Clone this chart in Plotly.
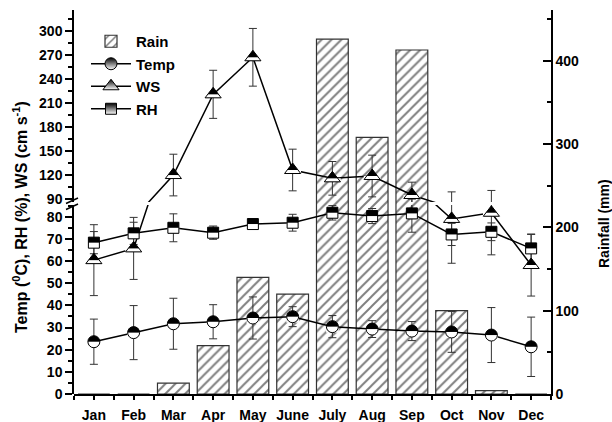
import plotly.graph_objects as go

# ---------------- data ----------------
months = ["Jan", "Feb", "Mar", "Apr", "May", "June", "July", "Aug", "Sep", "Oct", "Nov", "Dec"]
rain = [0, 0, 13, 58, 140, 120, 426, 308, 413, 100, 4, 0]
temp = [23.6, 27.7, 31.7, 32.6, 34.3, 34.9, 30.4, 29.3, 28.4, 28.0, 26.6, 21.3]
temp_err = [10.2, 12.2, 11.5, 7.7, 9.5, 4.5, 5.0, 3.8, 4.3, 9.2, 12.4, 13.4]
ws = [60.4, 65.7, 120.0, 220.7, 266.9, 126.3, 115.9, 118.8, 95.1, 79.0, 81.8, 58.2]
ws_err = [16.0, 14.0, 26.0, 30.0, 36.0, 26.0, 21.0, 26.0, 16.0, 20.0, 19.0, 14.0]
rh = [68.3, 72.5, 75.0, 72.8, 76.7, 77.3, 81.8, 80.3, 81.5, 72.0, 73.2, 65.7]
rh_err = [5.0, 5.0, 6.3, 3.0, 1.5, 3.8, 3.3, 3.4, 8.5, 5.0, 4.0, 6.3]
left_low_ticks = [0, 10, 20, 30, 40, 50, 60, 70, 80]
left_high_ticks = [90, 120, 150, 180, 210, 240, 270, 300]
right_ticks = [0, 100, 200, 300, 400]

# ---------------- geometry ----------------
W, H = 612, 422
ML, MR, MT, MB = 74, 61, 10, 28
PW, PH = W - ML - MR, H - MT - MB
LOW_DOMAIN = [0, 0.4922]     # lower segment of the broken left axis
HIGH_DOMAIN = [0.5, 1]       # upper segment
LOW_RANGE = [0, 85.29]
HIGH_RANGE = [86.38, 325.9]
RAIN_RANGE = [0, 461]


def px_x(px):
    return (px - ML) / PW


def px_y(py):
    return (H - MB - py) / PH


def in_range(vals, lo, hi):
    return [v if lo <= v <= hi else None for v in vals]


FONT = "Liberation Sans, Arial, Helvetica, sans-serif"
x = list(range(len(months)))

fig = go.Figure()

# Rain bars (right axis, first subplot -> drawn underneath)
fig.add_trace(go.Bar(
    x=x, y=rain, name="Rain", xaxis="x", yaxis="y", width=0.8,
    marker=dict(color="white", line=dict(color="#333333", width=1.2),
                pattern=dict(shape="/", fgcolor="#000000", bgcolor="white",
                             size=7, solidity=0.28)),
    legendrank=1,
))

series = [
    ("Temp", temp, temp_err, "circle", 12, 2),
    ("WS", ws, ws_err, "triangle-up", 14, 3),
    ("RH", rh, rh_err, "square", 11, 4),
]

segments = [("y2", LOW_RANGE), ("y3", HIGH_RANGE)]
for axis, (lo, hi) in segments:
    # lines + error bars (full series, clipped by the segment)
    for name, vals, errs, sym, size, rank in series:
        fig.add_trace(go.Scatter(
            x=x, y=vals, xaxis="x", yaxis=axis, mode="lines",
            line=dict(color="black", width=1.5),
            error_y=dict(type="data", array=errs, visible=True,
                         color="#333333", thickness=1, width=4),
            showlegend=False, hoverinfo="skip",
        ))
    # half-filled markers (only points belonging to this segment)
    for name, vals, errs, sym, size, rank in series:
        pts = in_range(vals, lo, hi)
        r = size / 2.0
        if sym == "triangle-up":
            half_w = r * 2 / 3 ** 0.5
            cover_h = r / 2
        else:
            half_w = r
            cover_h = r
        fig.add_trace(go.Scatter(
            x=x, y=pts, xaxis="x", yaxis=axis, mode="markers",
            marker=dict(symbol=sym, size=size, color="black",
                        line=dict(width=0)),
            showlegend=False, hoverinfo="skip",
        ))
        fig.add_trace(go.Scatter(
            x=x, y=pts, xaxis="x", yaxis=axis, mode="markers",
            marker=dict(symbol="line-ew", size=2 * (half_w + 0.3) / 1.4,
                        color="white", angle=0, standoff=cover_h / 2,
                        line=dict(color="white", width=cover_h)),
            showlegend=False, hoverinfo="skip",
        ))
        fig.add_trace(go.Scatter(
            x=x, y=pts, xaxis="x", yaxis=axis, mode="markers",
            marker=dict(symbol=sym, size=size, color="rgba(0,0,0,0)",
                        line=dict(color="black", width=1)),
            showlegend=False, hoverinfo="skip",
        ))

# legend entries
for name, vals, errs, sym, size, rank in series:
    fig.add_trace(go.Scatter(
        x=[None], y=[None], xaxis="x", yaxis="y2", name=name,
        mode="lines+markers", line=dict(color="black", width=1.5),
        marker=dict(symbol=sym, size=size, color="black",
                    gradient=dict(type="vertical", color="white"),
                    line=dict(color="black", width=1)),
        legendrank=rank,
    ))

tickfont = dict(family=FONT, size=14, color="black", weight="bold")
axis_common = dict(showline=True, linecolor="black", linewidth=1.5,
                   showgrid=False, zeroline=False, tickcolor="black",
                   tickwidth=1.5, tickfont=tickfont, automargin=False)

fig.update_layout(
    width=W, height=H,
    margin=dict(l=ML, r=MR, t=MT, b=MB, autoexpand=False),
    paper_bgcolor="white", plot_bgcolor="rgba(0,0,0,0)",
    font=dict(family=FONT, size=14, color="black"),
    xaxis=dict(range=[-0.5, 11.5], anchor="y", tickmode="array",
               tickvals=x, ticktext=months, ticks="outside", ticklen=4,
               ticklabelstandoff=3,
               minor=dict(ticks="outside", tickmode="array",
                          tickvals=[i + 0.5 for i in range(-1, 12)],
                          ticklen=4, tickcolor="black", tickwidth=1.5),
               **axis_common),
    yaxis=dict(range=RAIN_RANGE, domain=[0, 1], side="right", anchor="x",
               tickmode="array", tickvals=right_ticks, ticks="inside", ticklen=8,
               minor=dict(ticks="inside", dtick=50, tick0=0, ticklen=4,
                          tickcolor="black", tickwidth=1.5),
               **axis_common),
    yaxis2=dict(range=LOW_RANGE, domain=LOW_DOMAIN, side="left", anchor="x",
                tickmode="array", tickvals=left_low_ticks, ticks="outside", ticklen=7,
                minor=dict(ticks="outside", dtick=5, tick0=0, ticklen=4,
                           tickcolor="black", tickwidth=1.5),
                **axis_common),
    yaxis3=dict(range=HIGH_RANGE, domain=HIGH_DOMAIN, side="left", anchor="x",
                tickmode="array", tickvals=left_high_ticks, ticks="outside", ticklen=7,
                minor=dict(ticks="outside", dtick=15, tick0=90, ticklen=4,
                           tickcolor="black", tickwidth=1.5),
                **axis_common),
    legend=dict(x=px_x(86), y=px_y(25), xanchor="left", yanchor="top",
                bgcolor="rgba(0,0,0,0)", borderwidth=0, itemwidth=40,
                tracegroupgap=0,
                font=dict(family=FONT, size=15, color="black", weight="bold")),
    showlegend=True,
)

# axis titles
fig.add_annotation(
    text="Temp (<sup>0</sup>C), RH (%), WS (cm s<sup>-1</sup>)",
    xref="paper", yref="paper", x=px_x(20), y=px_y(217),
    textangle=-90, showarrow=False, xanchor="center", yanchor="middle",
    font=dict(family=FONT, size=16, color="black", weight="bold"))
fig.add_annotation(
    text="Rainfall (mm)",
    xref="paper", yref="paper", x=px_x(604), y=px_y(224),
    textangle=-90, showarrow=False, xanchor="center", yanchor="middle",
    font=dict(family=FONT, size=14, color="black", weight="bold"))

# axis-break marks
for (x0, y0, x1, y1) in [(66, 203.5, 78, 198), (66, 209.5, 78, 204)]:
    fig.add_shape(type="line", xref="paper", yref="paper",
                  x0=px_x(x0), y0=px_y(y0), x1=px_x(x1), y1=px_y(y1),
                  line=dict(color="black", width=1.5))

fig.write_html("out.html")
